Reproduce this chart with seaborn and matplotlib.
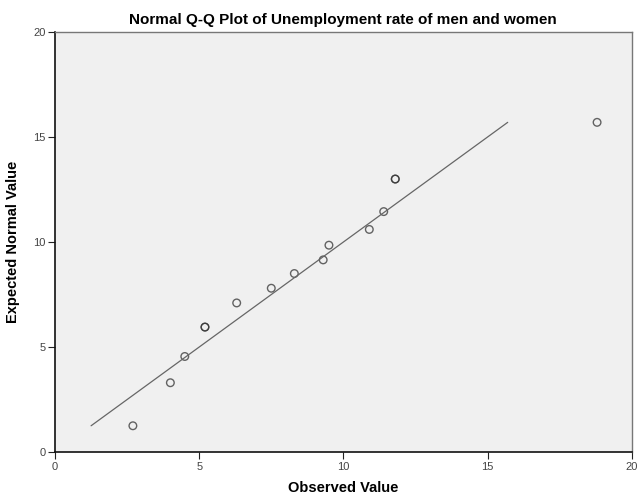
import matplotlib
matplotlib.use("Agg")
import matplotlib.pyplot as plt
import seaborn as sns
import pandas as pd

# =========================
# Data
# =========================
observed = [2.7, 4.0, 4.5, 5.2, 5.2, 6.3, 7.5, 8.3, 9.3, 9.5, 10.9, 11.4, 11.8, 11.8, 18.8]
expected = [1.25, 3.3, 4.55, 5.95, 5.95, 7.1, 7.8, 8.5, 9.15, 9.85, 10.6, 11.45, 13.0, 13.0, 15.7]
ref_line = [1.25, 15.7]  # y = x reference line, start and end

ticks = [0, 5, 10, 15, 20]

df = pd.DataFrame({"Observed Value": observed, "Expected Normal Value": expected})
line_df = pd.DataFrame({"x": ref_line, "y": ref_line})

# =========================
# Plot
# =========================
sns.set_style("white")
plt.rcParams["font.family"] = ["Liberation Sans", "DejaVu Sans"]

fig = plt.figure(figsize=(6.4, 4.97), dpi=100)
ax = fig.add_axes([0.086, 0.0905, 0.901, 0.845])
ax.set_facecolor("#f0f0f0")

sns.lineplot(data=line_df, x="x", y="y", ax=ax, color="#666666", linewidth=0.9)
sns.scatterplot(data=df, x="Observed Value", y="Expected Normal Value", ax=ax,
                marker="o", s=30, facecolors="none", edgecolor="#333333",
                linewidth=1.0, alpha=0.75)

ax.set_xlim(0, 20)
ax.set_ylim(0, 20)
ax.set_xticks(ticks)
ax.set_yticks(ticks)
ax.tick_params(axis="both", direction="out", length=5, width=0.8,
               bottom=True, left=True,
               labelsize=8, labelcolor="#444444", color="#222222", pad=2)

for side in ["left", "bottom"]:
    ax.spines[side].set_color("#111111")
    ax.spines[side].set_linewidth(1.2)
for side in ["top", "right"]:
    ax.spines[side].set_color("#777777")
    ax.spines[side].set_linewidth(1.0)

ax.set_title("Normal Q-Q Plot of Unemployment rate of men and women",
             fontsize=11, fontweight="bold", pad=6, color="black")
ax.set_xlabel("Observed Value", fontsize=10.5, fontweight="bold", labelpad=7, color="black")
ax.set_ylabel("Expected Normal Value", fontsize=10.5, fontweight="bold", labelpad=9, color="black")

fig.savefig("out.png", dpi=100)
